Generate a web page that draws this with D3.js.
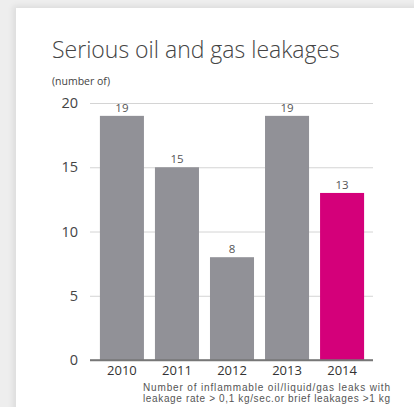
<!DOCTYPE html>
<html>
<head>
<meta charset="utf-8">
<script src="https://cdn.jsdelivr.net/npm/d3@7"></script>
<style>
  html, body { margin: 0; padding: 0; background: #eeeeee; }
  body { width: 414px; height: 407px; overflow: hidden; position: relative; }
  #card {
    position: absolute; left: 16px; top: 8px; width: 420px; height: 420px;
    background: #ffffff; box-shadow: -3px -2px 6px rgba(0,0,0,0.08);
  }
  svg { position: absolute; left: 0; top: 0; }
</style>
</head>
<body>
<div id="card"></div>
<svg id="chart" width="414" height="407"></svg>
<script>
// Serious oil and gas leakages per year
const years = ["2010", "2011", "2012", "2013", "2014"];
const leaks = [19, 15, 8, 19, 13];
const yTicks = [0, 5, 10, 15, 20];
const highlightYear = "2014";
const noteLines = [
  "Number of inflammable oil/liquid/gas leaks with",
  "leakage rate > 0,1 kg/sec.or brief leakages >1 kg"
];

const svg = d3.select("#chart");
const font = "'Open Sans', sans-serif";

const x = d3.scaleBand()
  .domain(years)
  .range([90, 374])
  .paddingInner(0.2)
  .paddingOuter(0.18);

const y = d3.scaleLinear()
  .domain([0, 20])
  .range([360, 103]);

// Title and unit
svg.append("text")
  .attr("x", 52).attr("y", 58)
  .attr("font-family", font).attr("font-weight", 300)
  .attr("font-size", 23).attr("fill", "#444")
  .text("Serious oil and gas leakages");

svg.append("text")
  .attr("x", 52).attr("y", 85)
  .attr("font-family", font).attr("font-size", 10.5).attr("fill", "#444")
  .text("(number of)");

// Horizontal gridlines with value labels on the left
const yAxis = d3.axisLeft(y).tickValues(yTicks).tickSize(0).tickPadding(12);
const gy = svg.append("g").attr("transform", "translate(90,0)").call(yAxis);
gy.select(".domain").remove();
gy.selectAll(".tick text")
  .attr("font-family", font).attr("font-size", 14.5).attr("fill", "#444");
gy.selectAll(".tick").append("line")
  .attr("x1", 0).attr("x2", 283)
  .attr("stroke", d => d === 0 ? "#777" : "#d4d4d4")
  .attr("stroke-width", d => d === 0 ? 1.5 : 1);

// Bars
svg.append("g").selectAll("rect")
  .data(years)
  .join("rect")
  .attr("x", d => x(d))
  .attr("width", x.bandwidth())
  .attr("y", (d, i) => y(leaks[i]))
  .attr("height", (d, i) => y(0) - y(leaks[i]))
  .attr("fill", d => d === highlightYear ? "#d4007a" : "#919197");

// Re-draw the baseline on top of the bars
svg.append("line")
  .attr("x1", 90).attr("x2", 373)
  .attr("y1", y(0)).attr("y2", y(0))
  .attr("stroke", "#777").attr("stroke-width", 1.5);

// Value labels above bars
svg.append("g").selectAll("text")
  .data(years)
  .join("text")
  .attr("x", d => x(d) + x.bandwidth() / 2)
  .attr("y", (d, i) => y(leaks[i]) - 4)
  .attr("text-anchor", "middle")
  .attr("font-family", font).attr("font-size", 11.5).attr("fill", "#555")
  .text((d, i) => leaks[i]);

// Year labels
const xAxis = d3.axisBottom(x).tickSize(0).tickPadding(6);
const gx = svg.append("g").attr("transform", "translate(0,360)").call(xAxis);
gx.select(".domain").remove();
gx.selectAll(".tick text")
  .attr("font-family", font).attr("font-size", 13).attr("fill", "#333");

// Footnote, two tight lines under the year labels
svg.append("g").selectAll("text")
  .data(noteLines)
  .join("text")
  .attr("x", 143)
  .attr("y", (d, i) => 390.5 + i * 11.5)
  .attr("textLength", 247)
  .attr("lengthAdjust", "spacing")
  .attr("font-family", "'Liberation Sans', Arial, sans-serif")
  .attr("font-size", 10).attr("fill", "#555")
  .text(d => d);
</script>
</body>
</html>
